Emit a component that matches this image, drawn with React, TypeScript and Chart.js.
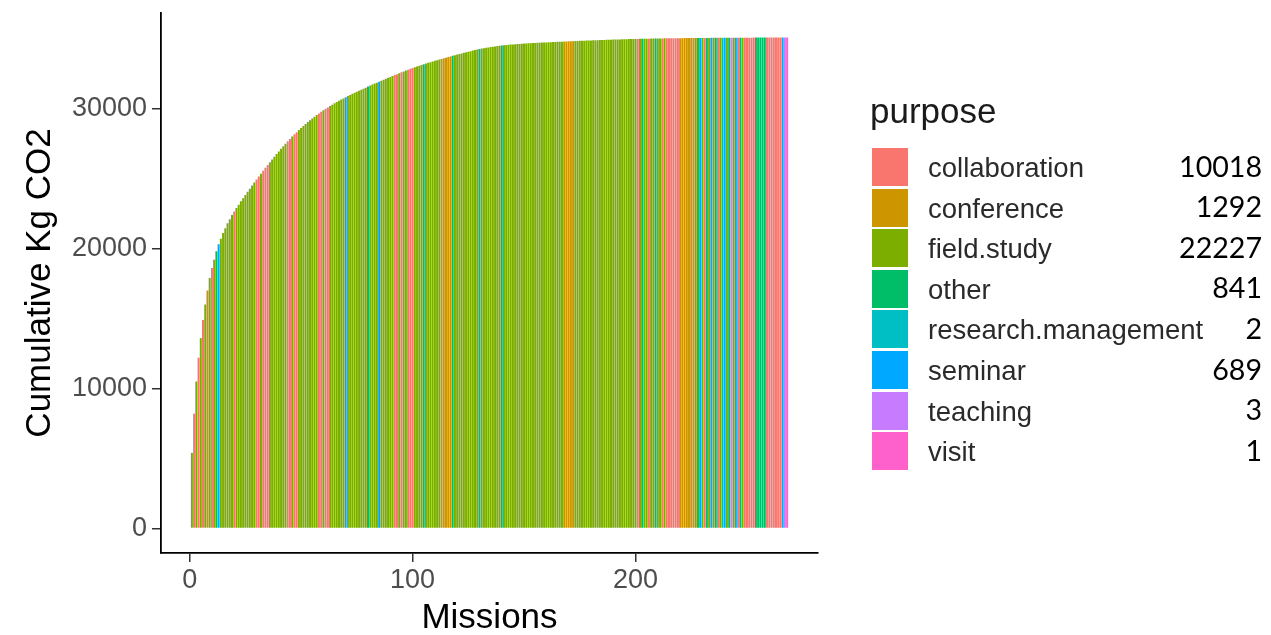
import React, { useEffect, useRef } from "react";
import { Chart, registerables } from "chart.js";

Chart.register(...registerables);

const PURPOSES = [
  "collaboration",
  "conference",
  "field.study",
  "other",
  "research.management",
  "seminar",
  "teaching",
  "visit",
];
const PURPOSE_COLORS = [
  "#F8766D",
  "#CD9600",
  "#7CAE00",
  "#00BE67",
  "#00BFC4",
  "#00A9FF",
  "#C77CFF",
  "#FF61CC",
];
const PURPOSE_TOTALS = [10018, 1292, 22227, 841, 2, 689, 3, 1];
const PURPOSE_CODES = "CKFORSTV";

// purpose of each mission (sorted by emission, largest first)
const MISSION_PURPOSE =
  "FCFCFCFKFC" +
  "FOSFFFFFFC" +
  "FFFFFFFFFC" +
  "CFCCCFFFFF" +
  "FFFCCFCCFF" +
  "FFFFFFFCCF" +
  "CCFFFFFFFS" +
  "FFFFFFFFFO" +
  "FFFFSFFFFF" +
  "FCCFCFFCCC" +
  "FFFFOFFFFF" +
  "FFKKKKKOFF" +
  "FFFFFFFFFO" +
  "FFFFFFFFFO" +
  "FFFFFFFFFF" +
  "FFFFFFFFFF" +
  "FFFFFFFKKK" +
  "KKFFFFFFFF" +
  "FFFFFFFFFF" +
  "FFFFFFFFFF" +
  "CFOFFCFFOF" +
  "FCFCCCCCCK" +
  "KKKKKKFOSF" +
  "COFSFOCFRS" +
  "FOTFSCOFCC" +
  "CCCOOOOOCC" +
  "CCCCCSTV";

// Kg CO2 per mission
const EMISSIONS = [
  5400, 2800, 2300, 1700, 1400, 1300, 1100, 1000, 900, 700,
  600, 600, 500, 400, 400, 350, 350, 300, 300, 250,
  245, 240, 235, 230, 228, 225, 222, 220, 218, 215,
  212, 210, 207, 205, 202, 200, 198, 195, 192, 190,
  186, 183, 180, 175, 170, 165, 160, 156, 152, 148,
  144, 140, 136, 132, 128, 124, 120, 116, 112, 108,
  105, 102, 99, 96, 94, 92, 90, 88, 86, 84,
  82, 80, 78, 76, 75, 74, 74, 73, 73, 72,
  72, 71, 71, 70, 70, 69, 69, 68, 68, 67,
  66, 66, 65, 65, 64, 64, 63, 63, 62, 62,
  55, 54, 53, 52, 51, 50, 50, 49, 48, 47,
  46, 45, 45, 45, 44, 44, 44, 43, 43, 43,
  42, 42, 42, 41, 41, 41, 40, 38, 36, 34,
  32, 30, 28, 27, 26, 25, 24, 22, 20, 19,
  18, 17, 16, 15, 14, 13, 12, 11, 10, 10,
  10, 10, 9, 9, 9, 9, 9, 8, 8, 8,
  8, 8, 8, 8, 7, 7, 7, 7, 7, 7,
  7, 7, 7, 7, 7, 6, 6, 6, 6, 6,
  6, 6, 6, 6, 6, 6, 6, 6, 6, 5,
  5, 5, 5, 5, 5, 5, 5, 4, 4, 4,
  4, 4, 4, 3, 3, 3, 3, 3, 3, 3,
  3, 3, 3, 2, 2, 2, 2, 2, 2, 2,
  2, 2, 2, 2, 2, 2, 2, 1, 1, 1,
  1, 1, 1, 1, 1, 1, 1, 1, 1, 1,
  1, 1, 1, 1, 1, 1, 1, 1, 1, 1,
  1, 0.4, 0.4, 0.4, 0.4, 0.4, 0.4, 0.4, 0.4, 0.4,
  0.4, 0.3, 0.3, 0.3, 0.3, 0.3, 0.3, 0.3,
];

const X_TICKS = [0, 100, 200];
const Y_TICKS = [0, 10000, 20000, 30000];

const X_TITLE = "Missions";
const Y_TITLE = "Cumulative Kg CO2";
const LEGEND_TITLE = "purpose";

const SANS = "'Liberation Sans', Arial, Helvetica, sans-serif";

export default function App() {
  const ref = useRef<HTMLCanvasElement>(null);

  useEffect(() => {
    const cum: number[] = [];
    let s = 0;
    EMISSIONS.forEach((e) => {
      s += e;
      cum.push(s);
    });
    const n = EMISSIONS.length;
    const total = s;
    const data = cum.map((v, i) => ({ x: i + 1, y: v }));
    const colors = MISSION_PURPOSE.split("").map(
      (c) => PURPOSE_COLORS[PURPOSE_CODES.indexOf(c)]
    );
    const xLo = 0.55;
    const xHi = n + 0.45;
    const xPad = (xHi - xLo) * 0.05;
    const yPad = total * 0.05;

    Chart.defaults.font.family = SANS;

    const chart = new Chart(ref.current!, {
      type: "bar",
      data: {
        datasets: [
          {
            data,
            backgroundColor: colors,
            borderWidth: 0,
            barPercentage: 0.9,
            categoryPercentage: 1,
          } as any,
        ],
      },
      options: {
        animation: false,
        responsive: false,
        maintainAspectRatio: false,
        layout: { padding: { left: 0, top: 13, right: 453, bottom: 0 } },
        plugins: {
          legend: { display: false },
          tooltip: { enabled: false },
        },
        scales: {
          x: {
            type: "linear",
            offset: false,
            min: xLo - xPad,
            max: xHi + xPad,
            afterBuildTicks: (sc: any) => {
              sc.ticks = X_TICKS.map((v) => ({ value: v }));
            },
            afterFit: (sc: any) => {
              sc.height = 82;
              sc.paddingLeft = 0;
              sc.paddingRight = 0;
            },
            grid: {
              offset: false,
              drawOnChartArea: false,
              drawTicks: true,
              tickLength: 9,
              color: "#333333",
              lineWidth: 1.5,
            },
            border: { display: true, color: "#000000", width: 1.8 },
            ticks: {
              font: { size: 27 },
              color: "#4D4D4D",
              padding: 2,
              maxRotation: 0,
              callback: (v: any) => String(v),
            },
            title: {
              display: true,
              text: X_TITLE,
              font: { size: 35 },
              color: "#000000",
              padding: { top: 0, bottom: -4 },
            },
          },
          y: {
            type: "linear",
            min: -yPad,
            max: total + yPad,
            afterBuildTicks: (sc: any) => {
              sc.ticks = Y_TICKS.map((v) => ({ value: v }));
            },
            afterFit: (sc: any) => {
              sc.width = 161;
              sc.paddingTop = 0;
              sc.paddingBottom = 0;
            },
            grid: {
              drawOnChartArea: false,
              drawTicks: true,
              tickLength: 9,
              color: "#333333",
              lineWidth: 1.5,
            },
            border: { display: true, color: "#000000", width: 1.8 },
            ticks: {
              font: { size: 27 },
              color: "#4D4D4D",
              padding: 5,
              callback: (v: any) => String(v),
            },
            title: {
              display: true,
              text: Y_TITLE,
              font: { size: 35 },
              color: "#000000",
              padding: { top: 19, bottom: 0 },
            },
          },
        },
      },
    });
    return () => chart.destroy();
  }, []);

  const rowPitch = 40.6;
  return (
    <div
      style={{
        position: "fixed",
        left: 0,
        top: 0,
        width: 1271,
        height: 635,
        background: "#ffffff",
        overflow: "hidden",
      }}
    >
      <canvas
        ref={ref}
        width={1271}
        height={635}
        style={{ position: "absolute", left: 0, top: 0, display: "block" }}
      />
      <div
        style={{
          position: "absolute",
          left: 870,
          top: 93,
          fontFamily: SANS,
          fontSize: 35,
          lineHeight: "35px",
          color: "#1a1a1a",
          whiteSpace: "nowrap",
        }}
      >
        {LEGEND_TITLE}
      </div>
      {PURPOSES.map((p, i) => (
        <React.Fragment key={p}>
          <div
            style={{
              position: "absolute",
              left: 872,
              top: 148 + rowPitch * i,
              width: 36,
              height: 38,
              background: PURPOSE_COLORS[i],
            }}
          />
          <div
            style={{
              position: "absolute",
              left: 928,
              top: 154 + rowPitch * i,
              fontFamily: SANS,
              fontSize: 27.5,
              lineHeight: "27.5px",
              color: "#2a2a2a",
              whiteSpace: "nowrap",
            }}
          >
            {p}
          </div>
          <div
            style={{
              position: "absolute",
              right: 1271 - 1262,
              top: 151.5 + rowPitch * i,
              fontFamily: "Lato, 'Open Sans', sans-serif",
              fontSize: 28.6,
              lineHeight: "28.6px",
              color: "#000000",
              whiteSpace: "nowrap",
              textAlign: "right",
            }}
          >
            {PURPOSE_TOTALS[i]}
          </div>
        </React.Fragment>
      ))}
    </div>
  );
}
